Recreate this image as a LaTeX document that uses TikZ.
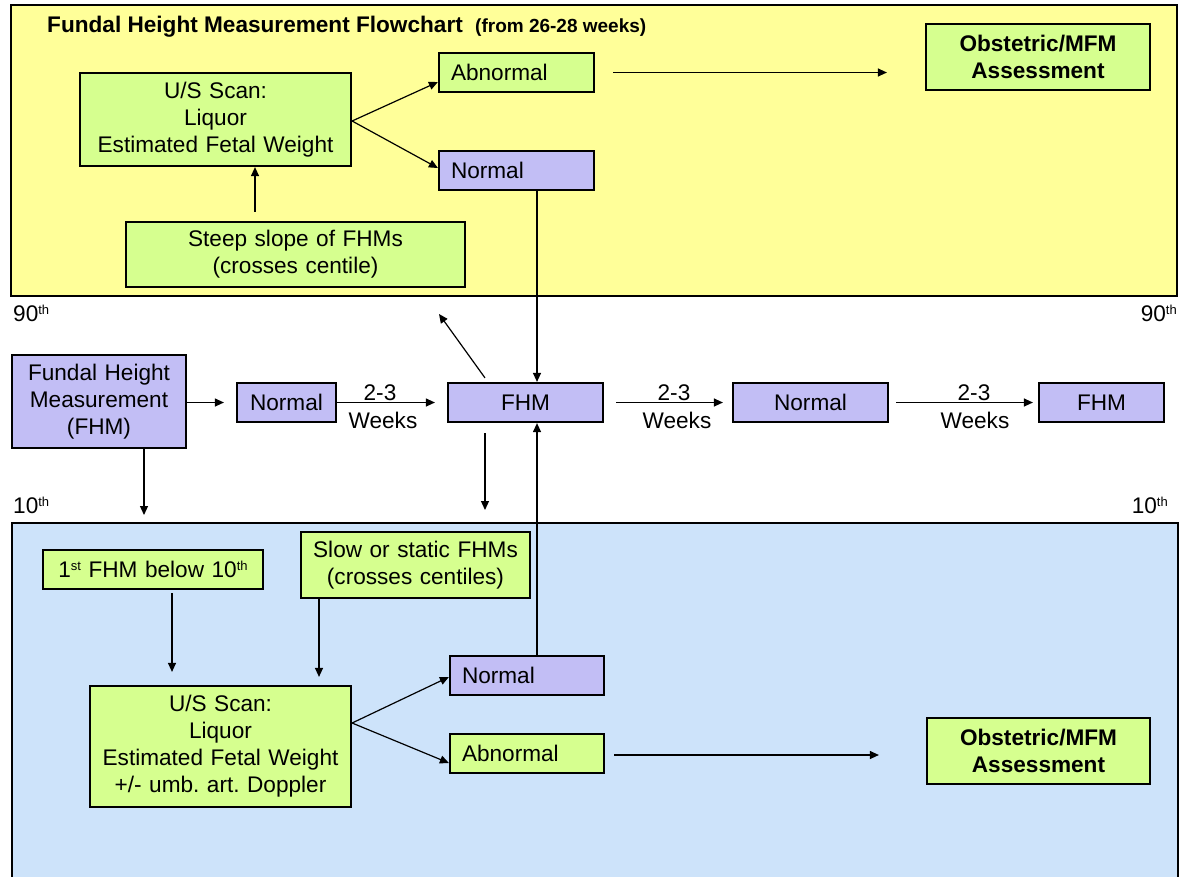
\documentclass[tikz,border=0pt]{standalone}
\usepackage{fontspec}
\setmainfont{Liberation Sans}
\usetikzlibrary{arrows.meta,calc}
\definecolor{ybg}{HTML}{FFFF99}
\definecolor{bbg}{HTML}{CDE3FA}
\definecolor{gfill}{HTML}{D6FF8F}
\definecolor{pfill}{HTML}{C2BEF5}
\newcommand{\bodyfont}{\fontsize{22.6}{27}\selectfont}
\newcommand{\subfont}{\fontsize{19}{22}\selectfont}
\newcommand{\supfont}{\fontsize{13}{15}\selectfont}
\frenchspacing
\begin{document}
\begin{tikzpicture}[x=1pt,y=-1pt,
  box/.style={draw, line width=2.2pt, inner xsep=4pt, inner ysep=0pt, font=\bodyfont, align=center},
  gbox/.style={box, fill=gfill},
  pbox/.style={box, fill=pfill},
  lbox/.style={inner xsep=12pt, align=left},
  conn/.style={line width=1.2pt, -{Triangle[length=9pt,width=8pt]}},
  lbl/.style={font=\bodyfont, inner sep=0pt},
]
\useasboundingbox (0,0) rectangle (1180,876);
\fill[white] (0,0) rectangle (1180,876);

% background zones
\fill[ybg] (11,5) rectangle (1177,296);
\draw[line width=2.5pt] (11,5) rectangle (1177,296);
\fill[bbg] (12,523) rectangle (1178,884);
\draw[line width=2.5pt] (12,884) -- (12,523) -- (1178,523) -- (1178,884);

% title
\node[anchor=base west, inner sep=0pt, font=\bfseries\bodyfont] (title) at (47,32) {Fundal Height Measurement Flowchart};
\node[anchor=base west, inner sep=0pt, font=\bfseries\subfont] (subtitle) at (475,32) {(from 26-28 weeks)};

% centile labels
\node[lbl, anchor=base west] (p90l) at (13,321) {90{\supfont\raisebox{7pt}{th}}};
\node[lbl, anchor=base east] (p90r) at (1177,321) {90{\supfont\raisebox{7pt}{th}}};
\node[lbl, anchor=base west] (p10l) at (13,513) {10{\supfont\raisebox{7pt}{th}}};
\node[lbl, anchor=base east] (p10r) at (1168,513) {10{\supfont\raisebox{7pt}{th}}};

% top zone
\node[gbox, minimum width=271, minimum height=93, text width=263pt] (usTop) at (215.5,119.5) {U/S Scan:\\Liquor\\Estimated Fetal Weight};
\node[gbox, lbox, minimum width=155, minimum height=39, text width=131pt] (abnTop) at (516.5,72.5) {Abnormal};
\node[pbox, lbox, minimum width=155, minimum height=39, text width=131pt] (normTop) at (516.5,170.5) {Normal};
\node[gbox, minimum width=224, minimum height=66, text width=216pt, font=\bfseries\bodyfont] (obsTop) at (1038,57) {Obstetric/MFM\\Assessment};
\node[gbox, minimum width=339, minimum height=65, text width=331pt] (steep) at (295.5,254.5) {Steep slope of FHMs\\(crosses centile)};

% middle row
\node[pbox, minimum width=174, minimum height=93, text width=166pt] (fundal) at (99,401.5) {Fundal Height\\Measurement\\(FHM)};
\node[pbox, minimum width=99, minimum height=39, text width=91pt] (norm1) at (286.5,402.5) {Normal};
\node[pbox, minimum width=155, minimum height=39, text width=147pt] (fhm1) at (525.5,402.5) {FHM};
\node[pbox, minimum width=155, minimum height=39, text width=147pt] (norm2) at (810.5,402.5) {Normal};
\node[pbox, minimum width=125, minimum height=39, text width=117pt] (fhm2) at (1101.5,402.5) {FHM};

% bottom zone
\node[gbox, minimum width=220, minimum height=39, text width=212pt] (first) at (153,569.5) {1{\supfont\raisebox{7pt}{st}} FHM below 10{\supfont\raisebox{7pt}{th}}};
\node[gbox, minimum width=229, minimum height=66, text width=221pt] (slow) at (415.5,565) {Slow or static FHMs\\(crosses centiles)};
\node[gbox, minimum width=261, minimum height=121, text width=253pt] (usBot) at (220.5,746.5) {U/S Scan:\\Liquor\\Estimated Fetal Weight\\+/- umb. art. Doppler};
\node[pbox, lbox, minimum width=154, minimum height=39, text width=130pt] (normBot) at (527,675.5) {Normal};
\node[gbox, lbox, minimum width=154, minimum height=39, text width=130pt] (abnBot) at (527,753.5) {Abnormal};
\node[gbox, minimum width=223, minimum height=66, text width=215pt, font=\bfseries\bodyfont] (obsBot) at (1038.5,751) {Obstetric/MFM\\Assessment};

% helper coordinates
\coordinate (vx) at (537,0);
\coordinate (dx) at (485,0);
\coordinate (diagEnd) at (439,314);
\coordinate (fhmDownEnd) at (485,510);
\coordinate (fundDownEnd) at (144,515);
\coordinate (steepX) at (255,0);
\coordinate (firstX) at (172,0);
\coordinate (slowX) at (319,0);

% top connectors
\draw[conn] ($(usTop.east)+(0,1.5)$) -- ($(abnTop.west)+(0,9.5)$);
\draw[conn] ($(usTop.east)+(0,1.5)$) -- ($(normTop.west)+(0,-2.5)$);
\draw[conn] ($(abnTop.east)+(18,0)$) -- ($(obsTop.west |- abnTop.east)+(-38,0)$);
\draw[conn] ($(steep.north -| steepX)+(0,-9)$) -- (usTop.south -| steepX);
\draw[conn] (normTop.south -| vx) -- (fhm1.north -| vx);

% middle connectors
\draw[conn] (fundal.east |- norm1.west) -- ($(norm1.west)+(-12,0)$);
\draw[conn] (norm1.east) -- ($(fhm1.west)+(-12,0)$);
\draw[conn] ($(fhm1.east)+(12,0)$) -- ($(norm2.west)+(-9,0)$);
\draw[conn] ($(norm2.east)+(7,0)$) -- ($(fhm2.west)+(-5,0)$);
\draw[conn] ($(fhm1.north -| dx)+(0,-4)$) -- (diagEnd);
\draw[conn] ($(fhm1.south -| dx)+(0,10)$) -- (fhmDownEnd);
\draw[conn] (fundal.south -| fundDownEnd) -- (fundDownEnd);

\node[lbl, anchor=base] (w1a) at (380,400) {2-3};
\node[lbl, anchor=base] (w1b) at (383,428) {Weeks};
\node[lbl, anchor=base] (w2a) at (674,400) {2-3};
\node[lbl, anchor=base] (w2b) at (677,428) {Weeks};
\node[lbl, anchor=base] (w3a) at (974,400) {2-3};
\node[lbl, anchor=base] (w3b) at (975,428) {Weeks};

% bottom connectors
\draw[conn] ($(first.south -| firstX)+(0,3)$) -- ($(usBot.north -| firstX)+(0,-13)$);
\draw[conn] (slow.south -| slowX) -- ($(usBot.north -| slowX)+(0,-8)$);
\draw[conn] ($(usBot.east)+(0,-23.5)$) -- ($(normBot.west)+(0,1.5)$);
\draw[conn] ($(usBot.east)+(0,-23.5)$) -- ($(abnBot.west)+(0,9.5)$);
\draw[conn] ($(abnBot.east)+(9,1.5)$) -- ($(obsBot.west |- abnBot.east)+(-47,1.5)$);
\draw[conn] (normBot.north -| vx) -- (fhm1.south -| vx);
\end{tikzpicture}
\end{document}
